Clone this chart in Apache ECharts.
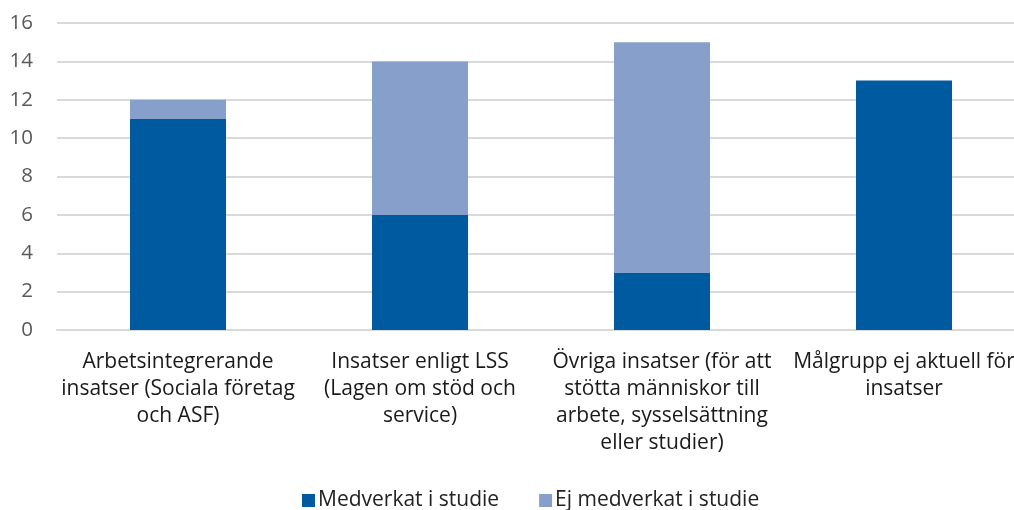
<!DOCTYPE html>
<html><head><meta charset="utf-8">
<script src="https://cdn.jsdelivr.net/npm/echarts@6/dist/echarts.min.js"></script>
<style>html,body{margin:0;padding:0;background:#fff}#c{width:1014px;height:510px}</style>
</head><body><div id="c"></div>
<script>
const categories = [
  "Arbetsintegrerande\ninsatser (Sociala företag\noch ASF)",
  "Insatser enligt LSS\n(Lagen om stöd och\nservice)",
  "Övriga insatser (för att\nstötta människor till\narbete, sysselsättning\neller studier)",
  "Målgrupp ej aktuell för\ninsatser"
];
const medverkat = [11, 6, 3, 13];
const ejMedverkat = [1, 8, 12, 0];
const seriesNames = ["Medverkat i studie", "Ej medverkat i studie"];

const chart = echarts.init(document.getElementById('c'), null, {renderer: 'canvas'});
const font = "Open Sans";
chart.setOption({
  animation: false,
  color: ['#005AA0', '#87A0CB'],
  grid: {left: 57, width: 968, top: 23, height: 307, containLabel: false, outerBoundsMode: 'none'},
  legend: {
    bottom: -6, left: 297,
    itemWidth: 13, itemHeight: 13, itemGap: 40, icon: 'rect',
    textStyle: {fontFamily: font, fontSize: 21, color: '#222', padding: [0, 0, 0, -2]},
    data: seriesNames
  },
  xAxis: {
    type: 'category', data: categories,
    axisTick: {show: false},
    axisLine: {lineStyle: {color: '#d9d9d9', width: 2}},
    axisLabel: {interval: 0, margin: 19, align: 'center', fontFamily: font, fontSize: 21, lineHeight: 27, color: '#1a1a1a', hideOverlap: false}
  },
  yAxis: {
    type: 'value', min: 0, max: 16, interval: 2,
    axisLine: {show: false}, axisTick: {show: false},
    splitLine: {lineStyle: {color: '#d9d9d9', width: 2}},
    axisLabel: {margin: 24, fontFamily: font, fontSize: 20.5, color: '#595959'}
  },
  series: [
    {name: seriesNames[0], type: 'bar', stack: 's', barWidth: 96, data: medverkat},
    {name: seriesNames[1], type: 'bar', stack: 's', barWidth: 96, data: ejMedverkat}
  ]
});
</script></body></html>
